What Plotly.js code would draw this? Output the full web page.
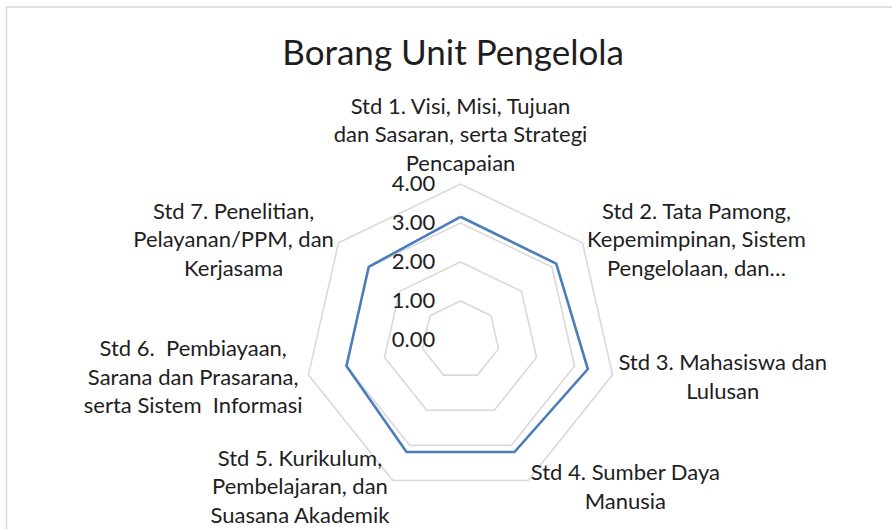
<!DOCTYPE html>
<html>
<head>
<meta charset="utf-8">
<script src="https://cdn.plot.ly/plotly-3.0.1.min.js"></script>
<style>html,body{margin:0;padding:0;background:#fff;}#chart{width:892px;height:529px;}</style>
</head>
<body>
<div id="chart"></div>
<script>
const categories = [
  "Std 1. Visi, Misi, Tujuan<br>dan Sasaran, serta Strategi<br>Pencapaian",
  "Std 2. Tata Pamong,<br>Kepemimpinan, Sistem<br>Pengelolaan, dan…",
  "Std 3. Mahasiswa dan<br>Lulusan",
  "Std 4. Sumber Daya<br>Manusia",
  "Std 5. Kurikulum,<br>Pembelajaran, dan<br>Suasana Akademik",
  "Std 6.  Pembiayaan,<br>Sarana dan Prasarana,<br>serta Sistem  Informasi",
  "Std 7. Penelitian,<br>Pelayanan/PPM, dan<br>Kerjasama"
];
const values = [3.16, 3.14, 3.35, 3.19, 3.19, 3.00, 3.01];
const radialTicks = [0, 1, 2, 3, 4];
const radialTickText = ["0.00", "1.00", "2.00", "3.00", "4.00"];
const chartTitle = "Borang Unit Pengelola";

const W = 892, H = 529;
const FONT = "Lato, 'Open Sans', sans-serif";
const TXT = '#1e1e1e';
const dom = {x: [0.3414, 0.6911], y: [0.0624, 0.6522]};

const data = [{
  type: 'scatterpolar',
  r: values.concat([values[0]]),
  theta: categories.concat([categories[0]]),
  mode: 'lines',
  line: {color: '#4a7ebb', width: 2.6},
  hoverinfo: 'skip'
}];

const layout = {
  width: W, height: H,
  margin: {l: 0, r: 0, t: 0, b: 0},
  paper_bgcolor: '#fff',
  showlegend: false,
  font: {family: FONT, color: TXT, size: 22},
  title: {text: chartTitle, font: {family: FONT, size: 35, color: TXT}, x: 0.508, xanchor: 'center', y: 0.9, yanchor: 'middle'},
  polar: {
    domain: dom,
    gridshape: 'linear',
    bgcolor: 'rgba(0,0,0,0)',
    angularaxis: {
      direction: 'clockwise', rotation: 90,
      showgrid: false, showline: true, linecolor: '#d9d9d9', linewidth: 1.6,
      ticks: '', tickfont: {family: FONT, size: 22, color: TXT}
    },
    radialaxis: {
      range: [0, 4], angle: 90, side: 'counterclockwise', tickangle: 90,
      tickvals: radialTicks, ticktext: radialTickText,
      showline: false, ticks: 'outside', ticklen: 17, tickcolor: 'rgba(0,0,0,0)',
      gridcolor: '#d9d9d9', gridwidth: 1.6,
      tickfont: {family: FONT, size: 22, color: TXT}
    }
  },
  shapes: [{
    type: 'rect', xref: 'paper', yref: 'paper',
    x0: 6.5/W, x1: 1.02, y0: -0.02, y1: 1 - 7/H,
    line: {color: '#d9d9d9', width: 1.5}
  }]
};

Plotly.newPlot('chart', data, layout, {displayModeBar: false, staticPlot: true}).then(function (gd) {
  const cx = (dom.x[0] + dom.x[1]) / 2 * W;
  const cy = (1 - (dom.y[0] + dom.y[1]) / 2) * H;
  const R = (dom.x[1] - dom.x[0]) * W / 2;
  const root = gd.getBoundingClientRect();
  const n = categories.length;
  gd.querySelectorAll('g.angularaxistick text').forEach(function (t) {
    const m = t.textContent.match(/Std\s*(\d+)/);
    if (!m) return;
    const i = +m[1] - 1;
    const bb = t.getBBox();
    const mid = bb.x + bb.width / 2;
    t.setAttribute('text-anchor', 'middle');
    t.setAttribute('x', mid);
    t.querySelectorAll('tspan.line').forEach(function (s) { s.setAttribute('x', mid); });
    const r = t.getBoundingClientRect();
    const a = i * 2 * Math.PI / n;
    const s = Math.sin(a), c = Math.cos(a);
    const pad = c > 0.9 ? 8 : 6;
    const ax = cx + (R + pad) * s, ay = cy - (R + pad) * c;
    let tx, ty;
    if (s > 0.1) tx = ax; else if (s < -0.1) tx = ax - r.width; else tx = ax - r.width / 2;
    if (c > 0.9) ty = ay - r.height; else ty = ay - r.height / 2;
    const dx = tx - (r.left - root.left), dy = ty - (r.top - root.top);
    t.setAttribute('transform', 'translate(' + dx + ',' + dy + ') ' + (t.getAttribute('transform') || ''));
  });
});
</script>
</body>
</html>
